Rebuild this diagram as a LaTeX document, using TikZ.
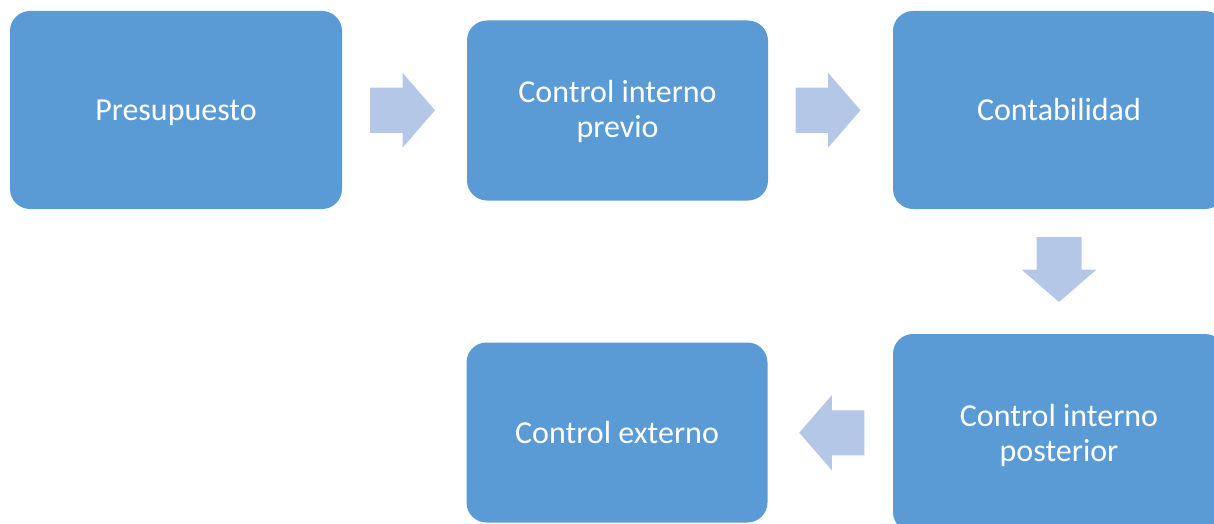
\documentclass[tikz,border=0pt]{standalone}
\usepackage{fontspec}
\setmainfont{Carlito}
\usetikzlibrary{calc}
\definecolor{boxblue}{HTML}{5B9BD5}
\definecolor{arrowblue}{HTML}{B4C7E7}
\begin{document}
\begin{tikzpicture}[x=1pt,y=-1pt,
  stepbox/.style={fill=boxblue, rounded corners=20pt, text=white,
    font=\fontsize{32}{35}\selectfont, align=center, inner sep=0pt},
  oneline/.style={text height=26pt, text depth=4pt},
  twoline/.style={text height=60pt, text depth=#1},
  twoline/.default=7pt,
  bigbox/.style={stepbox, minimum width=332pt, minimum height=198pt},
  smallbox/.style={stepbox, minimum width=301pt, minimum height=180pt},
  blockarrow/.pic={\fill[arrowblue] (-32.5,-22.5) -- (0,-22.5) -- (0,-37.5) -- (32.5,0) -- (0,37.5) -- (0,22.5) -- (-32.5,22.5) -- cycle;}]
\useasboundingbox (0,0) rectangle (1214,524);
\clip (0,0) rectangle (1214,524);
\node[bigbox,oneline]   (a) at (176,110)   {Presupuesto};
\node[smallbox,twoline] (b) at (617.5,110.5) {Control interno\\previo};
\node[bigbox,oneline]   (c) at (1059,110)  {Contabilidad};
\node[bigbox,twoline=3pt] (d) at (1059,433)  {Control interno\\posterior};
\node[smallbox,oneline] (e) at (617,432.5)   {Control externo};
\pic at ($(a.east)!0.5!(b.west)+(-2,0)$) {blockarrow};
\pic at ($(b.east)!0.5!(c.west)+(-2.5,0)$) {blockarrow};
\pic[rotate=-90] at ($(c.south)!0.5!(d.north)+(0,-2)$) {blockarrow};
\pic[rotate=180] at ($(d.west)!0.5!(e.east)+(1.5,0)$) {blockarrow};
\end{tikzpicture}
\end{document}
